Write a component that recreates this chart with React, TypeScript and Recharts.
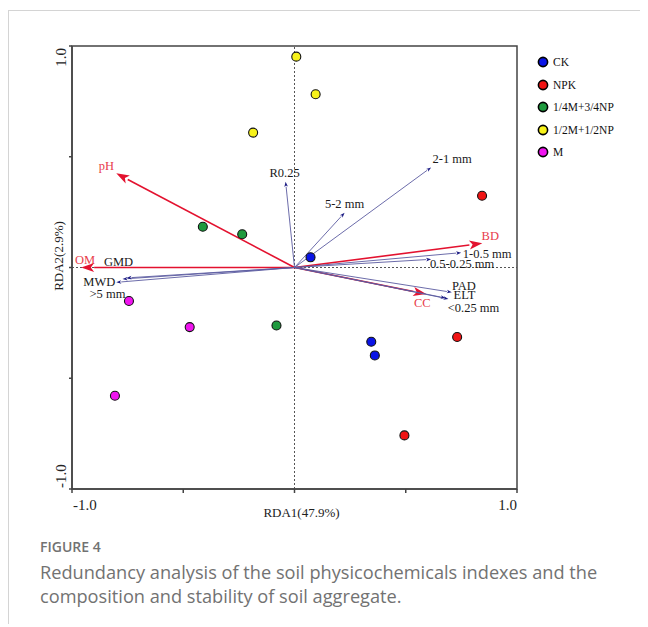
import { ScatterChart, Scatter, XAxis, YAxis, ReferenceLine, ReferenceArea, Label } from "recharts"

// sample groups (site scores)
const groupNames = ["CK", "NPK", "1/4M+3/4NP", "1/2M+1/2NP", "M"]
const groupColors = ["#0a14e6", "#f01414", "#1f9a3e", "#f7f21a", "#f014f0"]

const ckX = [0.072, 0.345, 0.361]
const ckY = [0.046, -0.335, -0.397]
const npkX = [0.843, 0.731, 0.494]
const npkY = [0.324, -0.314, -0.758]
const quarterX = [-0.412, -0.235, -0.081]
const quarterY = [0.184, 0.150, -0.262]
const halfX = [0.008, 0.095, -0.186]
const halfY = [0.952, 0.782, 0.609]
const manureX = [-0.744, -0.471, -0.807]
const manureY = [-0.151, -0.269, -0.579]

const groupX = [ckX, npkX, quarterX, halfX, manureX]
const groupY = [ckY, npkY, quarterY, halfY, manureY]

// soil physicochemical indexes (red arrows)
const soilNames = ["pH", "OM", "BD", "CC"]
const soilX = [-0.801, -0.959, 0.844, 0.592]
const soilY = [0.425, 0, 0.109, -0.12]

// aggregate composition / stability (navy arrows)
const aggNames = ["R0.25", "5-2 mm", "2-1 mm", "1-0.5 mm", "0.5-0.25 mm", "PAD", "ELT", "<0.25 mm", "GMD", "MWD", ">5 mm"]
const aggX = [-0.04, 0.225, 0.614, 0.749, 0.614, 0.707, 0.692, 0.679, -0.773, -0.801, -0.755]
const aggY = [0.387, 0.247, 0.452, 0.067, 0.037, -0.112, -0.142, -0.138, -0.052, -0.067, -0.047]

const axisTicks = [-1, -0.5, 0, 0.5, 1]

// label placement next to arrow tips (px)
const labelOffset: Record<string, [number, number]> = {
  pH: [-10, -7],
  OM: [4, -8],
  BD: [8, -7],
  CC: [-4, 9],
  "R0.25": [-1, -9],
  "5-2 mm": [0, -9],
  "2-1 mm": [21, -8],
  "1-0.5 mm": [26, 1],
  "0.5-0.25 mm": [31, 5],
  PAD: [12, -6],
  ELT: [16, -4],
  "<0.25 mm": [28, 10],
  GMD: [-4, -17],
  MWD: [-17, 0],
  ">5 mm": [-19, 16],
}

const CHART_W = 630
const CHART_H = 530
const PLOT_LEFT = 63
const PLOT_TOP = 35
const PLOT_W = 445
const PLOT_H = 443
const Y_AXIS_W = 40
const X_AXIS_H = 40

const serif = "'Liberation Serif', 'Times New Roman', serif"

function XTick({ x, y, payload }: any) {
  const v = payload.value
  if (v !== -1 && v !== 1) return <g />
  return (
    <text x={v < 0 ? x + 1 : x} y={y + 10} textAnchor={v < 0 ? "start" : "end"} dominantBaseline="central"
      fontFamily={serif} fontSize={15} fill="#222">
      {v.toFixed(1)}
    </text>
  )
}

function YTick({ x, y, payload }: any) {
  const v = payload.value
  if (v !== -1 && v !== 1) return <g />
  const ty = v > 0 ? y + 2 : y - 1
  return (
    <text x={x - 6} y={ty} transform={`rotate(-90, ${x - 6}, ${ty})`} textAnchor={v > 0 ? "end" : "start"}
      dominantBaseline="central" fontFamily={serif} fontSize={15} fill="#222">
      {v.toFixed(1)}
    </text>
  )
}

function arrow(name: string, soil: boolean) {
  return (p: any) => {
    const x1 = Number(p.x1), y1 = Number(p.y1), x2 = Number(p.x2), y2 = Number(p.y2)
    const len = Math.hypot(x2 - x1, y2 - y1) || 1
    const ux = (x2 - x1) / len, uy = (y2 - y1) / len
    const hl = soil ? 13 : 5
    const hw = soil ? 4.5 : 1.8
    const bx = x2 - ux * hl, by = y2 - uy * hl
    const head = `${x2},${y2} ${bx - uy * hw},${by + ux * hw} ${bx + ux * hl * 0.25},${by + uy * hl * 0.25} ${bx + uy * hw},${by - ux * hw}`
    const [dx, dy] = labelOffset[name] || [0, 0]
    return (
      <g>
        <line x1={x1} y1={y1} x2={bx} y2={by} stroke={soil ? "#e3122f" : "#5b5ba0"} strokeWidth={soil ? 1.6 : 0.9} />
        <polygon points={head} fill={soil ? "#e3122f" : "#1c1c84"} />
        <text x={x2 + dx} y={y2 + dy} textAnchor="middle" dominantBaseline="central" fontFamily={serif}
          fontSize={12.5} fill={soil ? "#e8404c" : "#1a1a1a"}>
          {name}
        </text>
      </g>
    )
  }
}

const dot = (color: string) => (p: any) => (
  <circle cx={p.cx} cy={p.cy} r={4.5} fill={color} stroke="#111" strokeWidth={1.1} />
)

export default function App() {
  const series = groupNames.map((name, g) => ({
    name,
    color: groupColors[g],
    data: groupX[g].map((x, i) => ({ x, y: groupY[g][i] })),
  }))

  return (
    <div style={{ position: "relative", top: 2, width: 639, height: 615, borderLeft: "1px solid #d4d4d4", borderTop: "1px solid #d4d4d4" }}>
      <div style={{ position: "absolute", left: 0, top: 0 }}>
        <ScatterChart width={CHART_W} height={CHART_H}
          margin={{ top: PLOT_TOP, left: PLOT_LEFT - Y_AXIS_W, right: CHART_W - PLOT_LEFT - PLOT_W, bottom: CHART_H - PLOT_TOP - PLOT_H - X_AXIS_H }}>
          <XAxis type="number" dataKey="x" domain={[-1, 1]} ticks={axisTicks} height={X_AXIS_H} allowDataOverflow
            stroke="#444" strokeWidth={1.5} tickSize={4} tickMargin={2} tick={<XTick />}>
            <Label content={() => (
              <text x={PLOT_LEFT + PLOT_W / 2 + 7} y={PLOT_TOP + PLOT_H + 23} textAnchor="middle" dominantBaseline="central"
                fontFamily={serif} fontSize={13} fill="#222">RDA1(47.9%)</text>
            )} />
          </XAxis>
          <YAxis type="number" dataKey="y" domain={[-1, 1]} ticks={axisTicks} width={Y_AXIS_W} allowDataOverflow
            stroke="#444" strokeWidth={1.5} tickSize={3} tickMargin={2} tick={<YTick />}>
            <Label content={() => {
              const lx = PLOT_LEFT - 14, ly = PLOT_TOP + 210
              return (
                <text x={lx} y={ly} transform={`rotate(-90, ${lx}, ${ly})`} textAnchor="middle" dominantBaseline="central"
                  fontFamily={serif} fontSize={13} fill="#222">RDA2(2.9%)</text>
              )
            }} />
          </YAxis>
          <ReferenceArea x1={-1} x2={1} y1={-1} y2={1} fill="none" fillOpacity={0} stroke="#444" strokeWidth={1.5} />
          <ReferenceLine x={0} stroke="#555" strokeDasharray="2 2" strokeWidth={1} />
          <ReferenceLine y={0} stroke="#555" strokeDasharray="2 2" strokeWidth={1} />
          {soilNames.map((n, i) => (
            <ReferenceLine key={n} segment={[{ x: 0, y: 0 }, { x: soilX[i], y: soilY[i] }]} shape={arrow(n, true)} />
          ))}
          {aggNames.map((n, i) => (
            <ReferenceLine key={n} segment={[{ x: 0, y: 0 }, { x: aggX[i], y: aggY[i] }]} shape={arrow(n, false)} />
          ))}
          {series.map((s) => (
            <Scatter key={s.name} name={s.name} data={s.data} shape={dot(s.color)} isAnimationActive={false} />
          ))}
        </ScatterChart>
      </div>

      <div style={{ position: "absolute", left: 527, top: 40, fontFamily: serif, fontSize: 11.5, color: "#111" }}>
        {series.map((s) => (
          <div key={s.name} style={{ display: "flex", alignItems: "center", height: 22.5 }}>
            <svg width={14} height={14} style={{ marginRight: 3 }}>
              <circle cx={7} cy={7} r={4.6} fill={s.color} stroke="#000" strokeWidth={1.6} />
            </svg>
            <span>{s.name}</span>
          </div>
        ))}
      </div>

      <div style={{ position: "absolute", left: 31, top: 527, fontFamily: "'Open Sans', sans-serif", color: "#727272" }}>
        <div style={{ fontSize: 14, fontWeight: 600, lineHeight: "18px" }}>FIGURE 4</div>
        <div style={{ fontSize: 18.2, lineHeight: "24px", marginTop: 4, width: 600 }}>
          Redundancy analysis of the soil physicochemicals indexes and the composition and stability of soil aggregate.
        </div>
      </div>
    </div>
  )
}
